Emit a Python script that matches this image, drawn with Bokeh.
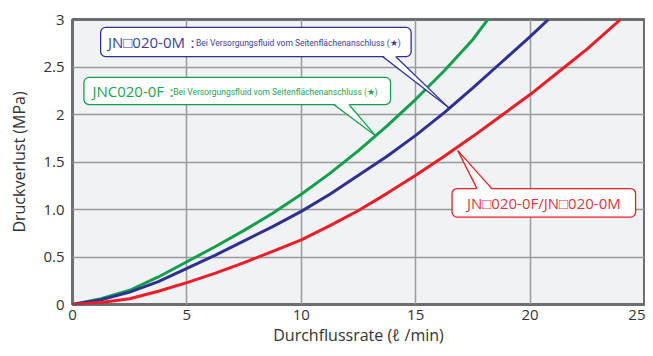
from bokeh.plotting import figure
from bokeh.models import Range1d, FixedTicker, Label
from bokeh.embed import file_html
from bokeh.resources import INLINE

# ---- data ----
green_x = [0, 1.25, 2.5, 3.75, 5, 6.25, 7.5, 8.75, 10, 11.25, 12.5, 13.75, 15, 16.25, 17.5, 18.15]
green_y = [0, 0.06, 0.15, 0.29, 0.45, 0.61, 0.78, 0.96, 1.16, 1.38, 1.62, 1.88, 2.16, 2.46, 2.79, 3.0]

blue_x = [0, 1.25, 2.5, 3.75, 5, 6.25, 7.5, 8.75, 10, 11.25, 12.5, 13.75, 15, 16.25, 17.5, 18.75, 20, 20.8]
blue_y = [0, 0.05, 0.13, 0.24, 0.38, 0.52, 0.67, 0.82, 0.98, 1.16, 1.36, 1.56, 1.78, 2.02, 2.28, 2.55, 2.82, 3.0]

red_x = [0, 1.25, 2.5, 3.75, 5, 6.25, 7.5, 8.75, 10, 11.25, 12.5, 13.75, 15, 16.25, 17.5, 18.75, 20, 21.25, 22.5, 23.95]
red_y = [0, 0.02, 0.06, 0.14, 0.23, 0.33, 0.44, 0.56, 0.68, 0.83, 0.99, 1.17, 1.36, 1.56, 1.77, 1.99, 2.21, 2.45, 2.69, 3.0]

x_ticks = [0, 5, 10, 15, 20, 25]
y_ticks = [0, 0.5, 1, 1.5, 2, 2.5, 3]
y_tick_labels = ["0", "0.5", "1.0", "1.5", "2", "2.5", "3"]

x_title = "Durchflussrate (ℓ /min)"
y_title = "Druckverlust (MPa)"

GREEN = "#12a04c"
BLUE = "#2e3192"
RED = "#ee1d25"

FONT = "Open Sans"
SMALL_FONT = "Roboto"

p = figure(width=645, height=348, output_backend="svg", toolbar_location=None,
           x_range=Range1d(0, 25), y_range=Range1d(0, 3),
           min_border_left=72, min_border_right=1, min_border_top=19, min_border_bottom=42)

p.background_fill_color = "#f1f2f4"
p.border_fill_color = "white"
p.outline_line_color = "#6d6e71"
p.outline_line_width = 3

p.xaxis.ticker = FixedTicker(ticks=x_ticks)
p.yaxis.ticker = FixedTicker(ticks=y_ticks)
p.yaxis.major_label_overrides = {(int(t) if float(t).is_integer() else t): l
                                 for t, l in zip(y_ticks, y_tick_labels)}

for ax in (p.xaxis, p.yaxis):
    ax.axis_line_color = None
    ax.major_tick_line_color = None
    ax.minor_tick_line_color = None
    ax.major_tick_out = 0
    ax.major_tick_in = 0
    ax.minor_tick_out = 0
    ax.minor_tick_in = 0
    ax.major_label_text_font = FONT
    ax.major_label_text_font_size = "15px"
    ax.major_label_text_color = "#333333"
    ax.axis_label_text_font = FONT
    ax.axis_label_text_font_size = "16px"
    ax.axis_label_text_font_style = "normal"
    ax.axis_label_text_color = "#333333"

p.xaxis.axis_label = x_title
p.yaxis.axis_label = y_title
p.xaxis.major_label_standoff = 5
p.yaxis.major_label_standoff = 8
p.xaxis.axis_label_standoff = 1
p.yaxis.axis_label_standoff = 10

p.grid.grid_line_color = "#9a9a9a"
p.grid.grid_line_width = 1.5
p.xgrid.ticker = FixedTicker(ticks=x_ticks)
p.ygrid.ticker = FixedTicker(ticks=y_ticks)

p.line(green_x, green_y, line_color=GREEN, line_width=3)
p.line(blue_x, blue_y, line_color=BLUE, line_width=3)
p.line(red_x, red_y, line_color=RED, line_width=3)


def callout(color, left, right, base_edge, far_edge, base_l, base_r, tip):
    p.quad(left=[left], right=[right], top=[max(base_edge, far_edge)],
           bottom=[min(base_edge, far_edge)], border_radius=5,
           fill_color="white", line_color=color, line_width=1.3)
    eps = 0.014 if far_edge > base_edge else -0.014
    p.patch([base_l, tip[0], base_r], [base_edge + eps, tip[1], base_edge + eps],
            fill_color="white", line_alpha=0)
    p.line([base_l, tip[0]], [base_edge, tip[1]], line_color=color, line_width=1.3)
    p.line([base_r, tip[0]], [base_edge, tip[1]], line_color=color, line_width=1.3)


callout(BLUE, 1.23, 14.8, 2.61, 2.917, 13.55, 14.12, (16.45, 2.07))
callout(GREEN, 0.50, 13.9, 2.105, 2.39, 11.42, 12.08, (13.23, 1.78))
callout(RED, 16.59, 24.61, 1.22, 0.92, 17.68, 18.33, (16.84, 1.62))

p.add_layout(Label(x=1.55, y=2.763, text="JN□020-0M：", text_font=FONT, text_font_size="15px",
                   text_color="#3b3f9a", text_baseline="middle"))
p.add_layout(Label(x=5.4, y=2.755, text="Bei Versorgungsfluid vom Seitenflächenanschluss (★)",
                   text_font=SMALL_FONT, text_font_size="8.5px", text_color="#3b3f9a",
                   text_baseline="middle"))
p.add_layout(Label(x=0.87, y=2.248, text="JNC020-0F：", text_font=FONT, text_font_size="15px",
                   text_color="#1fa352", text_baseline="middle"))
p.add_layout(Label(x=4.4, y=2.24, text="Bei Versorgungsfluid vom Seitenflächenanschluss (★)",
                   text_font=SMALL_FONT, text_font_size="8.5px", text_color="#1fa352",
                   text_baseline="middle"))
p.add_layout(Label(x=20.6, y=1.07, text="JN□020-0F/JN□020-0M", text_font=FONT, text_font_size="15px",
                   text_color="#e8333a", text_baseline="middle", text_align="center"))

open("out.html", "w").write(file_html(p, INLINE))
